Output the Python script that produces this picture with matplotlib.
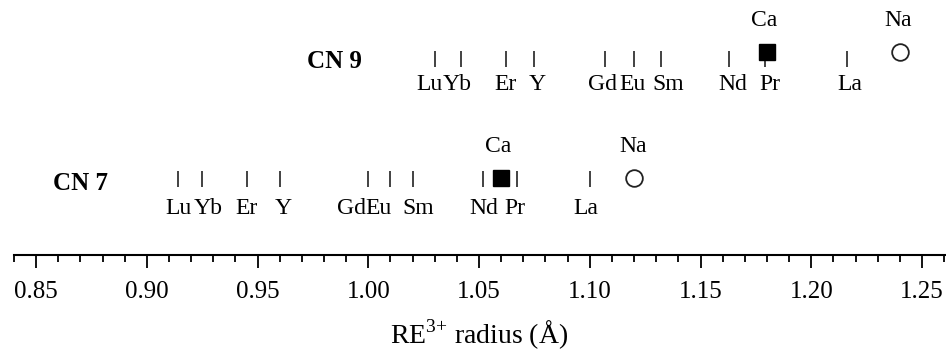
import matplotlib
matplotlib.use("Agg")
import matplotlib.pyplot as plt
from matplotlib.ticker import MultipleLocator

plt.rcParams['font.family'] = ['Liberation Serif', 'DejaVu Serif']
plt.rcParams['mathtext.fontset'] = 'custom'
plt.rcParams['mathtext.rm'] = 'Liberation Serif'

# RE3+ ionic radii (Angstrom)
elements = ['Lu', 'Yb', 'Er', 'Y', 'Gd', 'Eu', 'Sm', 'Nd', 'Pr', 'La']
radius_cn9 = [1.030, 1.042, 1.062, 1.075, 1.107, 1.120, 1.132, 1.163, 1.179, 1.216]
radius_cn7 = [0.914, 0.925, 0.945, 0.960, 1.000, 1.010, 1.020, 1.052, 1.067, 1.100]
# reference cations
ca_radius = {'CN 9': 1.180, 'CN 7': 1.060}
na_radius = {'CN 9': 1.240, 'CN 7': 1.120}

# row layout, y in pixels from top of figure; label shifts in pixels
rows = {
    'CN 9': dict(r=radius_cn9, tick=59, lab=85, mark=52, cat=21, name_x=0.3147, name_y=62,
                 shift=[-5, -4, 0, 3, -3, -2, 8, 3, 5, 3]),
    'CN 7': dict(r=radius_cn7, tick=179, lab=209, mark=177.5, cat=147, name_x=0.0419, name_y=183,
                 shift=[1, 6, 0, 3, -17, -12, 6, 0, -2, -4]),
}

W, H = 946, 352
fig = plt.figure(figsize=(W / 100, H / 100), dpi=100)
ax = fig.add_axes([14 / W, (H - 255) / H, 931 / W, 255 / H])
ax.set_xlim(0.8400, 1.2604)
ax.set_ylim(255, 0)

for key, row in rows.items():
    ax.plot(row['r'], [row['tick']] * len(row['r']), ls='none', marker='|',
            color='#222222', markersize=11, mew=1.2)
    for el, r, dx in zip(elements, row['r'], row['shift']):
        ax.annotate(el, (r, row['lab']), xytext=(dx * 0.72, 0), textcoords='offset points',
                    ha='center', va='center', fontsize=17)
    ax.plot([ca_radius[key]], [row['mark']], ls='none', marker='s', color='black',
            markersize=12)
    ax.plot([na_radius[key]], [row['mark']], ls='none', marker='o', mfc='white',
            mec='#222222', mew=1.3, markersize=12)
    ax.annotate('Ca', (ca_radius[key], row['cat']), xytext=(-2, 0), textcoords='offset points',
                ha='center', va='center', fontsize=17)
    ax.annotate('Na', (na_radius[key], row['cat']), xytext=(-1, 0), textcoords='offset points',
                ha='center', va='center', fontsize=17)
    ax.text(row['name_x'], 1 - row['name_y'] / 255, key, transform=ax.transAxes,
            ha='left', va='center', fontsize=18, fontweight='bold')

for s in ['top', 'left', 'right']:
    ax.spines[s].set_visible(False)
ax.spines['bottom'].set_linewidth(1.5)
ax.set_yticks([])
ax.xaxis.set_major_locator(MultipleLocator(0.05))
ax.xaxis.set_minor_locator(MultipleLocator(0.01))
ax.xaxis.set_major_formatter(plt.FormatStrFormatter('%.2f'))
ax.tick_params(axis='x', which='major', direction='out', length=9.5, width=1.3,
               labelsize=18, pad=9)
ax.tick_params(axis='x', which='minor', direction='out', length=5, width=1.3)
ax.set_xlabel(r'RE$^{3{+}}$ radius (Å)', fontsize=20, labelpad=11)

fig.savefig('out.png', dpi=100)
